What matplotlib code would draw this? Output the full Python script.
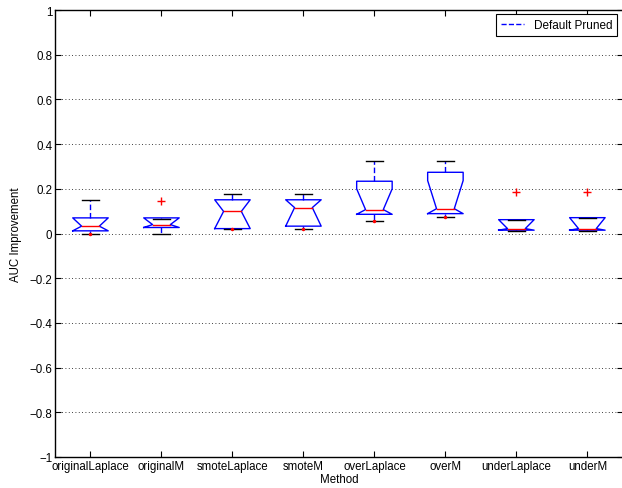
import numpy as np
import matplotlib
matplotlib.use('Agg')
import matplotlib.pyplot as plt
from matplotlib.lines import Line2D

plt.rcParams['font.family'] = ['Liberation Sans', 'DejaVu Sans']

# Box statistics
methods = ['originalLaplace', 'originalM', 'smoteLaplace', 'smoteM',
           'overLaplace', 'overM', 'underLaplace', 'underM']
q1 = [0.012, 0.027, 0.022, 0.033, 0.086, 0.089, 0.015, 0.015]
med = [0.033, 0.040, 0.099, 0.116, 0.107, 0.111, 0.022, 0.022]
q3 = [0.070, 0.070, 0.151, 0.151, 0.234, 0.274, 0.062, 0.071]
notch_lo = [0.012, 0.027, 0.022, 0.033, 0.086, 0.089, 0.015, 0.015]
notch_hi = [0.070, 0.070, 0.151, 0.151, 0.200, 0.237, 0.062, 0.071]
whisk_lo = [0.000, 0.000, 0.022, 0.022, 0.055, 0.074, 0.010, 0.010]
whisk_hi = [0.148, 0.067, 0.179, 0.179, 0.326, 0.326, 0.062, 0.071]
# outliers (red +) and the small red marks at the lower whisker ends
out_pos = [2, 7, 8]
out_val = [0.145, 0.185, 0.185]
low_pos = [1, 3, 4, 5, 6]
low_val = [0.000, 0.022, 0.022, 0.055, 0.074]

fig = plt.figure(figsize=(6.22, 4.89), dpi=100)
ax = fig.add_axes([0.0884, 0.0634, 0.913, 0.914])

w = 0.25   # half box width
cw = 0.125  # half cap width
for i in range(len(methods)):
    x = i + 1
    # notched box outline
    xs = [x - w, x - w, x - w / 2, x - w, x - w, x + w, x + w, x + w / 2, x + w, x + w, x - w]
    ys = [q1[i], notch_lo[i], med[i], notch_hi[i], q3[i], q3[i], notch_hi[i], med[i],
          notch_lo[i], q1[i], q1[i]]
    ax.plot(xs, ys, color='blue', lw=1)
    # median
    ax.plot([x - w / 2, x + w / 2], [med[i], med[i]], color='red', lw=1)
    # whiskers
    ax.plot([x, x], [q3[i], whisk_hi[i]], color='blue', lw=1, ls='--', dashes=(4, 2))
    ax.plot([x, x], [q1[i], whisk_lo[i]], color='blue', lw=1, ls='--', dashes=(4, 2))
    # caps
    ax.plot([x - cw, x + cw], [whisk_hi[i], whisk_hi[i]], color='black', lw=1)
    ax.plot([x - cw, x + cw], [whisk_lo[i], whisk_lo[i]], color='black', lw=1)

ax.plot(out_pos, out_val, ls='none', marker='+', color='red', ms=6, mew=1)
ax.plot(low_pos, low_val, ls='none', marker='.', color='red', ms=3)

ax.set_xlim(0.5, 8.5)
ax.set_ylim(-1, 1)
ax.set_xticks(range(1, len(methods) + 1))
ax.set_xticklabels(methods)
ax.set_yticks(np.round(np.arange(-1, 1.01, 0.2), 1))
ax.set_yticklabels(['\u22121', '\u22120.8', '\u22120.6', '\u22120.4', '\u22120.2',
                    '0', '0.2', '0.4', '0.6', '0.8', '1'])
ax.tick_params(direction='in', top=True, right=True, length=4, labelsize=8.3, pad=2)
ax.yaxis.grid(True, linestyle=(0, (1, 3)), color='black', lw=0.6)
ax.set_axisbelow(True)
for s in ax.spines.values():
    s.set_linewidth(1)

ax.set_xlabel('Method', fontsize=8.3, labelpad=1)
ax.set_ylabel('AUC Improvement', fontsize=8.3, labelpad=5)

handle = Line2D([], [], color='blue', ls='--', lw=1)
leg = ax.legend([handle], ['Default Pruned'], loc='upper right', fontsize=8.5,
                fancybox=False, framealpha=1, edgecolor='black',
                bbox_to_anchor=(0.997, 1.0), borderaxespad=0.35, handlelength=2)
leg.get_frame().set_linewidth(0.8)

fig.savefig('out.png', dpi=100)
